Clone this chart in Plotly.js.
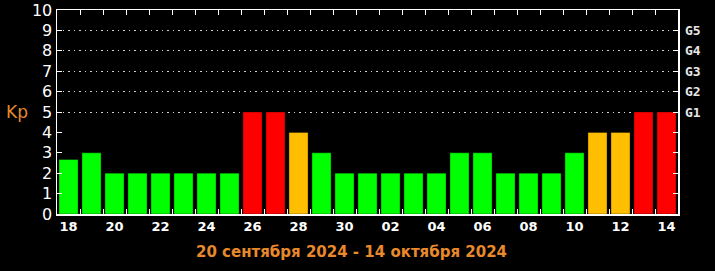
<!DOCTYPE html>
<html>
<head>
<meta charset="utf-8">
<script src="https://cdn.plot.ly/plotly-3.0.1.min.js"></script>
<style>
  html, body { margin: 0; padding: 0; background: #000; }
  #chart { width: 715px; height: 271px; }
</style>
</head>
<body>
<div id="chart"></div>
<script>
// ---- data ----
const days = ['18','19','20','21','22','23','24','25','26','27','28','29','30',
              '01','02','03','04','05','06','07','08','09','10','11','12','13','14'];
const kpValues = [2.67, 3, 2, 2, 2, 2, 2, 2, 5, 5, 4, 3, 2, 2, 2, 2, 2, 3, 3, 2, 2, 2, 3, 4, 4, 5, 5];
const kpTicks = [0, 1, 2, 3, 4, 5, 6, 7, 8, 9, 10];
const gLevels = [5, 6, 7, 8, 9];
const gLabels = ['G1', 'G2', 'G3', 'G4', 'G5'];
const titleText = '20 сентября 2024 - 14 октября 2024';
const axisLabel = 'Kp';

// ---- derived ----
const idx = days.map((d, i) => i);
function colorFor(v) {
  if (v >= 5) return '#ff0000';
  if (v >= 4) return '#ffbf00';
  return '#00ff00';
}
const barColors = kpValues.map(colorFor);
const labelIdx = idx.filter(i => i % 2 === 0);
const labelText = labelIdx.map(i => days[i]);
const boundaries = idx.slice(0, -1).map(i => i + 0.5);

const orange = '#e8892c';

const trace = {
  type: 'bar',
  x: idx,
  y: kpValues,
  marker: { color: barColors, line: { color: 'rgba(0,0,0,0.35)', width: 1 } },
  hoverinfo: 'skip'
};

const annotations = gLevels.map((lv, k) => ({
  xref: 'paper', yref: 'y', x: 1, y: lv,
  xanchor: 'left', yanchor: 'middle', xshift: 5,
  text: gLabels[k], showarrow: false,
  font: { family: 'DejaVu Sans Mono', size: 13, color: '#e6e6e6', weight: 'bold' }
}));
annotations.push({
  xref: 'paper', yref: 'y', x: 0, y: 5,
  xanchor: 'right', yanchor: 'middle', xshift: -27,
  text: axisLabel, showarrow: false,
  font: { family: 'DejaVu Sans', size: 17, color: orange }
});

const layout = {
  width: 715, height: 271,
  paper_bgcolor: '#000', plot_bgcolor: '#000',
  margin: { l: 57, r: 37, t: 10, b: 57 },
  showlegend: false,
  bargap: 0.17,
  title: {
    text: titleText,
    xref: 'container', yref: 'container',
    x: 351.5 / 715, y: 1 - 252 / 271,
    xanchor: 'center', yanchor: 'middle',
    font: { family: 'DejaVu Sans', size: 15, color: orange, weight: 'bold' }
  },
  xaxis: {
    range: [-0.5, days.length - 0.5],
    tickmode: 'array', tickvals: labelIdx, ticktext: labelText,
    ticks: '', showgrid: false, zeroline: false,
    showline: true, linecolor: '#ffffff', linewidth: 1.5, mirror: 'allticks',
    tickfont: { family: 'DejaVu Sans', size: 13, color: '#ffffff', weight: 'bold' },
    minor: { tickmode: 'array', tickvals: boundaries, ticks: 'inside', ticklen: 5, tickwidth: 1, tickcolor: '#ffffff', showgrid: false }
  },
  yaxis: {
    range: [0, 10],
    tickmode: 'array', tickvals: kpTicks, ticktext: kpTicks.map(String),
    ticks: 'inside', ticklen: 5, tickwidth: 1, tickcolor: '#ffffff',
    showgrid: false, zeroline: false,
    showline: true, linecolor: '#ffffff', linewidth: 1.5, mirror: 'allticks',
    tickfont: { family: 'DejaVu Sans', size: 16, color: '#ffffff' },
    minor: { tickmode: 'array', tickvals: gLevels, ticks: '', showgrid: true, griddash: '1.5px,4px', gridcolor: '#d0d0d0', gridwidth: 1 }
  },
  annotations: annotations
};

Plotly.newPlot('chart', [trace], layout, { staticPlot: true, displayModeBar: false });
</script>
</body>
</html>
